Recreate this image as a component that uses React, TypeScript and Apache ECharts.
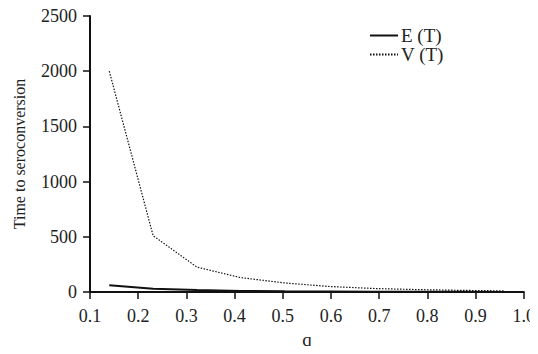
import React, { useEffect, useRef } from "react";
import * as echarts from "echarts";

const qValues = [0.14, 0.231, 0.322, 0.413, 0.504, 0.596, 0.687, 0.778, 0.869, 0.96];
const eT = [62, 30, 17, 10, 6, 4, 3, 2, 1.5, 1];
const vT = [2000, 510, 225, 130, 82, 50, 32, 22, 15, 10];
const seriesNames = ["E (T)", "V (T)"];

const FONT = "'Liberation Serif', 'Times New Roman', Times, serif";

export default function App() {
  const ref = useRef<HTMLDivElement>(null);
  useEffect(() => {
    if (!ref.current) return;
    const chart = echarts.init(ref.current, undefined, { renderer: "svg" });
    chart.setOption({
      animation: false,
      backgroundColor: "#ffffff",
      textStyle: { fontFamily: FONT, color: "#222" },
      grid: { left: 90, right: 10, top: 16, bottom: 61 },
      legend: {
        orient: "vertical",
        left: 364,
        top: 21,
        itemWidth: 28,
        itemHeight: 10,
        itemGap: 0,
        itemStyle: { opacity: 0 },
        textStyle: { fontFamily: FONT, fontSize: 19, color: "#222", padding: [0, 0, 0, -2] },
        data: seriesNames,
      },
      xAxis: {
        type: "value",
        min: 0.1,
        max: 1.0,
        interval: 0.1,
        name: "q",
        nameLocation: "middle",
        nameGap: 38,
        nameTextStyle: { fontFamily: FONT, fontSize: 19, color: "#222" },
        axisLine: { onZero: false, lineStyle: { color: "#111", width: 2 } },
        axisTick: { inside: false, length: 7, lineStyle: { color: "#111", width: 1.5 } },
        axisLabel: {
          fontFamily: FONT,
          fontSize: 18,
          color: "#222",
          margin: 15,
          formatter: (v: number) => v.toFixed(1),
        },
        splitLine: { show: false },
      },
      yAxis: {
        type: "value",
        min: 0,
        max: 2500,
        interval: 500,
        name: "Time to seroconversion",
        nameLocation: "middle",
        nameGap: 63,
        nameTextStyle: { fontFamily: FONT, fontSize: 16, color: "#222" },
        axisLine: { show: true, lineStyle: { color: "#111", width: 2 } },
        axisTick: { show: true, inside: false, length: 7, lineStyle: { color: "#111", width: 1.5 } },
        axisLabel: {
          fontFamily: FONT,
          fontSize: 18,
          color: "#222",
          margin: 13,
          formatter: (v: number) => String(v),
        },
        splitLine: { show: false },
      },
      series: [
        {
          name: seriesNames[0],
          type: "line",
          data: qValues.map((q, i) => [q, eT[i]]),
          showSymbol: false,
          symbol: "none",
          lineStyle: { color: "#111", width: 2, type: "solid" },
          itemStyle: { color: "#111" },
        },
        {
          name: seriesNames[1],
          type: "line",
          data: qValues.map((q, i) => [q, vT[i]]),
          showSymbol: false,
          symbol: "none",
          lineStyle: { color: "#111", width: 1.2, type: [1.5, 1.5] },
          itemStyle: { color: "#111" },
        },
      ],
    });
    return () => chart.dispose();
  }, []);
  return <div ref={ref} style={{ width: 538, height: 354, margin: -8 }} />;
}
